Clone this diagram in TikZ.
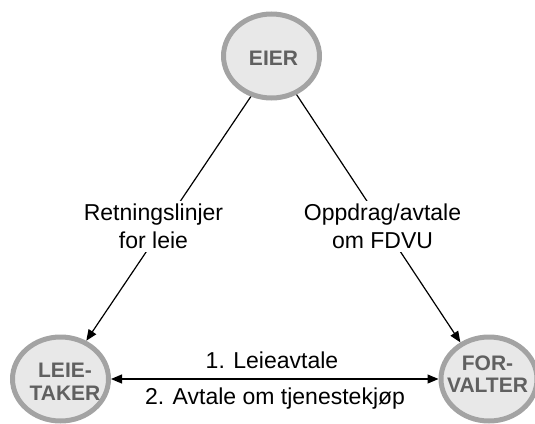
\documentclass[tikz,border=0pt]{standalone}
\usepackage{fontspec}
\setmainfont{Liberation Sans}
\usetikzlibrary{arrows.meta,shapes.geometric}
\definecolor{ringgray}{HTML}{A3A3A3}
\definecolor{discfill}{HTML}{E8E8E8}
\definecolor{roletext}{HTML}{606060}
\begin{document}
\begin{tikzpicture}[x=1pt,y=-1pt,
  role/.style={ellipse, draw=ringgray, line width=5pt, fill=discfill,
    minimum width=96pt, minimum height=84pt, inner sep=0pt},
  roletxt/.style={inner sep=0pt, align=center, text=roletext,
    font=\fontsize{21}{22.5}\selectfont\bfseries},
  link/.style={line width=1.2pt, -{Triangle[length=11pt,width=9pt]}},
  dlink/.style={line width=1.2pt, {Triangle[length=11pt,width=9pt]}-{Triangle[length=11pt,width=9pt]}},
  lbl/.style={fill=white, inner sep=3pt, align=center,
    font=\fontsize{23}{28}\selectfont},
  plain/.style={inner sep=0pt, font=\fontsize{23}{28}\selectfont}]
\useasboundingbox (0,0) rectangle (535,423);

% the three parties
\node[role] (eier) at (271.5,56) {};
\node[role] (lt) at (60.5,379) {};
\node[role] (fv) at (489,379) {};
\node[roletxt] (eiertxt) at (273.5,58) {EIER};
\node[roletxt] (lttxt) at (65,382) {LEIE-\\TAKER};
\node[roletxt] (fvtxt) at (487.5,374) {FOR-\\VALTER};

% relations
\draw[link] (eier.243) -- (lt.56);
\draw[link] (eier.303) -- (fv.128);
\draw[dlink] (lt) -- (fv);

% relation labels
\node[lbl] (rl) at (153.5,226.5) {Retningslinjer\\for leie};
\node[lbl] (fd) at (382.5,226.5) {Oppdrag/avtale\\om FDVU};
\node[plain, anchor=base] (lease) at (272,368) {1. Leieavtale};
\node[plain, anchor=base] (service) at (275,404) {2. Avtale om tjenestekjøp};
\end{tikzpicture}
\end{document}
